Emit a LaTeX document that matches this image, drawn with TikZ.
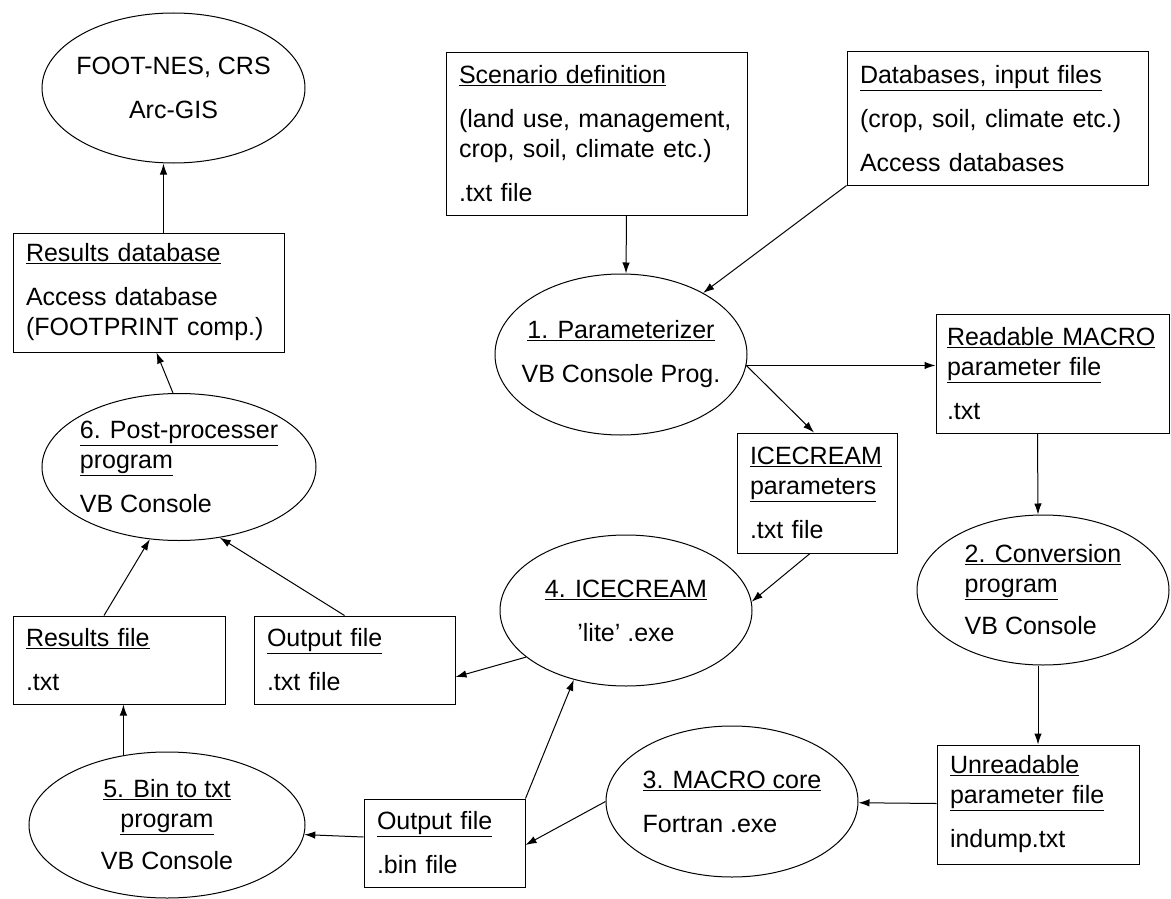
\documentclass[tikz,border=0pt]{standalone}
\usepackage{fontspec}
\setmainfont{Liberation Sans}
\usetikzlibrary{shapes.geometric,arrows.meta}

\tikzset{
  filebox/.style={draw, rectangle, align=left, inner xsep=13pt, inner ysep=0pt},
  progell/.style={draw, ellipse, align=center, inner xsep=-14pt, inner ysep=0pt},
}

\begin{document}
\begin{tikzpicture}[x=1pt, y=-1pt, >={Latex[length=11pt,width=7.5pt]}, line width=1pt, font=\fontsize{25}{30}\selectfont]
    \useasboundingbox (0,0) rectangle (1171,899);
    \node [progell, minimum width=263pt, minimum height=150pt] (foot) at (173.5,88) {FOOT-NES, CRS\\[14pt]Arc-GIS};
    \node [filebox, text width=245pt, minimum height=119pt] (resdb) at (148.5,292.5) {\underline{Results database}\\[14pt]Access database\\(FOOTPRINT comp.)};
    \node [progell, align=left, minimum width=274pt, minimum height=147pt] (post) at (179,467) {\underline{6. Post-processer}\\\underline{program}\\[14pt]VB Console};
    \node [filebox, text width=186pt, minimum height=88pt] (resfile) at (119,660) {\underline{Results file}\\[14pt].txt};
    \node [filebox, text width=175pt, minimum height=88pt] (outtxt) at (354.5,660) {\underline{Output file}\\[14pt].txt file};
    \node [progell, minimum width=276pt, minimum height=146pt] (bintxt) at (167,825) {\underline{5. Bin to txt}\\\underline{program}\\[12pt]VB Console};
    \node [filebox, text width=135pt, minimum height=88pt] (outbin) at (444.5,843) {\underline{Output file}\\[14pt].bin file};
    \node [progell, minimum width=252pt, minimum height=151pt] (ice) at (626,610.5) {\underline{4. ICECREAM}\\[14pt]'lite' .exe};
    \node [progell, align=left, minimum width=252pt, minimum height=151pt] (macro) at (732,801.5) {\underline{3. MACRO core}\\[14pt]Fortran .exe};
    \node [filebox, text width=176pt, minimum height=119pt] (unread) at (1038,804.5) {\underline{Unreadable}\\\underline{parameter file}\\[14pt]indump.txt};
    \node [progell, align=left, minimum width=252pt, minimum height=150pt] (conv) at (1043,590) {\underline{2. Conversion}\\\underline{program}\\[12pt]VB Console};
    \node [filebox, inner xsep=11pt, text width=211pt, minimum height=119pt] (readable) at (1052.5,373.5) {\underline{Readable MACRO}\\\underline{parameter file}\\[14pt].txt};
    \node [progell, minimum width=252pt, minimum height=161pt] (param) at (621,354.5) {\underline{1. Parameterizer}\\[14pt]VB Console Prog.};
    \node [filebox, text width=134pt, minimum height=120pt] (icepar) at (817,493) {\underline{ICECREAM}\\\underline{parameters}\\[14pt].txt file};
    \node [filebox, text width=275pt, minimum height=162pt] (scen) at (596.5,134) {\underline{Scenario definition}\\[14pt](land use, management,\\crop, soil, climate etc.)\\[14pt].txt file};
    \node [filebox, text width=275pt, minimum height=133pt] (dbs) at (997.5,118.5) {\underline{Databases, input files}\\[14pt](crop, soil, climate etc.)\\[14pt]Access databases};
    \draw [->] ([xshift=30pt]scen.south) -- ([xshift=5pt]param.north);
    \draw [->] (dbs.south west) -- (param);
    \draw [->] (param.-5) -- (param.-5 -| readable.west);
    \draw [->] (param.-5) -- ([xshift=-3pt]icepar.north);
    \draw [->] ([xshift=-15pt]readable.south) -- ([xshift=-5pt]conv.north);
    \draw [->] ([xshift=-5pt]conv.south) -- (unread.north);
    \draw [->] (unread) -- (macro);
    \draw [->] (macro.west) -- ([yshift=-2pt]outbin.east);
    \draw [->] (outbin.north east) -- (ice.233);
    \draw [->] ([xshift=-7pt]icepar.south) -- (ice.4);
    \draw [->] (ice.205) -- ([yshift=-17pt]outtxt.east);
    \draw [->] ([yshift=6pt]outbin.west) -- (bintxt.-4);
    \draw [->] (bintxt.122) -- (bintxt.122 |- resfile.south);
    \draw [->] ([xshift=-15pt]resfile.north) -- (post.248);
    \draw [->] ([xshift=-10pt]outtxt.north) -- (post.-60);
    \draw [->] ([xshift=-6pt]post.north) -- ([xshift=8pt]resdb.south);
    \draw [->] ([xshift=15pt]resdb.north) -- ([xshift=-10pt]foot.south);
  \end{tikzpicture}
\end{document}
